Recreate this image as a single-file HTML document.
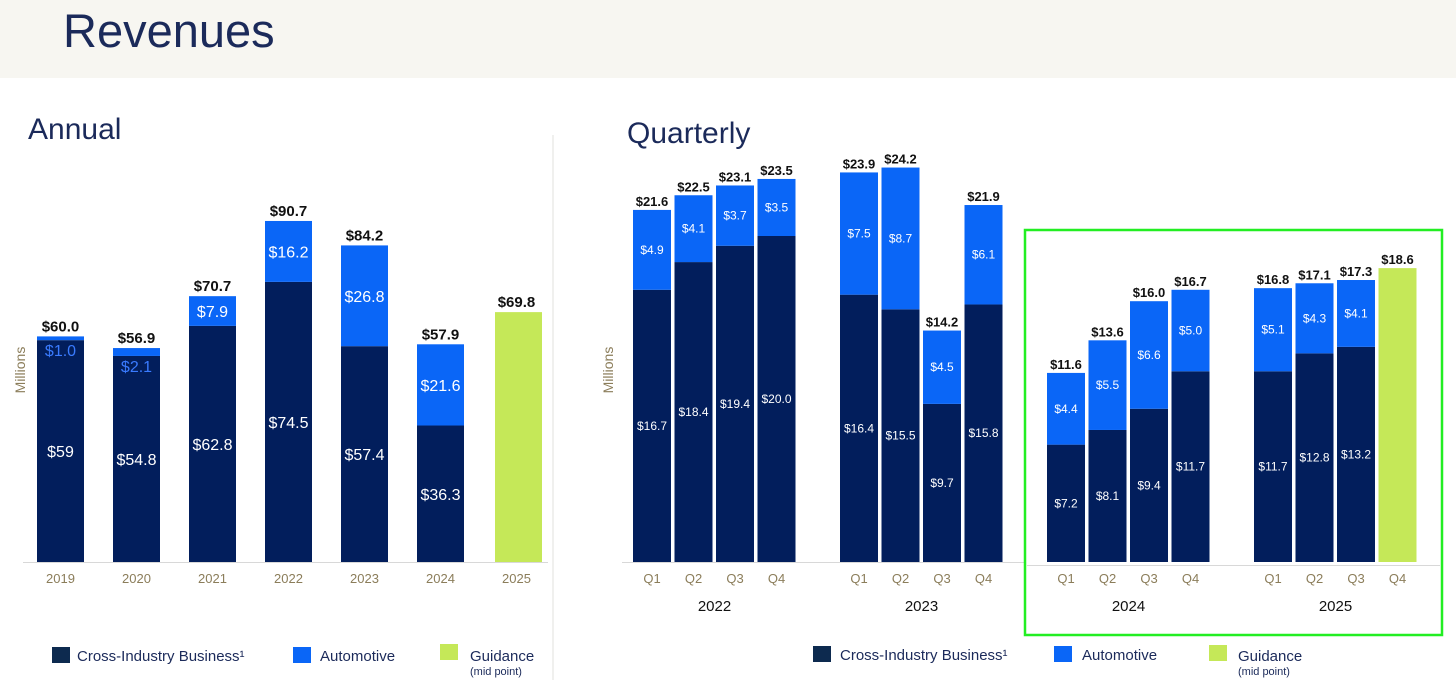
<!DOCTYPE html>
<html><head><meta charset="utf-8"><style>
html,body{margin:0;padding:0;background:#fff;width:1456px;height:696px;overflow:hidden;font-family:"Liberation Sans",sans-serif}
</style></head><body>
<svg id="c" width="1456" height="696" xmlns="http://www.w3.org/2000/svg" font-family="Liberation Sans, sans-serif">
<rect x="0" y="0" width="1456" height="78" fill="#f7f6f1"/>
<text x="63" y="47" font-size="47" fill="#1b2a5a">Revenues</text>
<text x="28" y="139" font-size="30" fill="#1b2a5a">Annual</text>
<text x="627" y="143" font-size="30" fill="#1b2a5a">Quarterly</text>
<line x1="553" y1="135" x2="553" y2="680" stroke="#e2e0dc" stroke-width="1"/>
<text transform="translate(25,370) rotate(-90)" text-anchor="middle" font-size="14" fill="#8b7d5a">Millions</text>
<text transform="translate(613,370) rotate(-90)" text-anchor="middle" font-size="14" fill="#8b7d5a">Millions</text>
<line x1="23" y1="562.5" x2="548" y2="562.5" stroke="#d8d8d8"/>
<line x1="622" y1="562.5" x2="1025" y2="562.5" stroke="#d8d8d8"/>
<line x1="1027" y1="565.5" x2="1440" y2="565.5" stroke="#d8d8d8"/>
<rect x="1025" y="230" width="417" height="405" fill="none" stroke="#22ee22" stroke-width="2.5"/>
<g id="ann"></g><g id="qtr"></g>
<g>
<rect x="52" y="647" width="18" height="16" fill="#0d2a4f"/>
<text x="77" y="661" font-size="15" fill="#1b2a5a">Cross-Industry Business¹</text>
<rect x="293" y="647" width="18" height="16" fill="#0a66f7"/>
<text x="320" y="661" font-size="15" fill="#1b2a5a">Automotive</text>
<rect x="440" y="644" width="18" height="16" fill="#c5e858"/>
<text x="470" y="661" font-size="15" fill="#1b2a5a">Guidance</text>
<text x="470" y="675" font-size="11" fill="#1b2a5a">(mid point)</text>
</g>
<g>
<rect x="813" y="646" width="18" height="16" fill="#0d2a4f"/>
<text x="840" y="660" font-size="15" fill="#1b2a5a">Cross-Industry Business¹</text>
<rect x="1054" y="646" width="18" height="16" fill="#0a66f7"/>
<text x="1082" y="660" font-size="15" fill="#1b2a5a">Automotive</text>
<rect x="1209" y="645" width="18" height="16" fill="#c5e858"/>
<text x="1238" y="661" font-size="15" fill="#1b2a5a">Guidance</text>
<text x="1238" y="675" font-size="11" fill="#1b2a5a">(mid point)</text>
</g>
</svg>
<script>
const annYears = ["2019","2020","2021","2022","2023","2024","2025"];
const annCross = [59, 54.8, 62.8, 74.5, 57.4, 36.3, 0];
const annCrossLabels = ["$59","$54.8","$62.8","$74.5","$57.4","$36.3",""];
const annAuto = [1.0, 2.1, 7.9, 16.2, 26.8, 21.6, 0];
const annGuidance = [0, 0, 0, 0, 0, 0, 69.8];
const annTotals = ["$60.0","$56.9","$70.7","$90.7","$84.2","$57.9","$69.8"];

const qYears = ["2022","2023","2024","2025"];
const qQuarters = ["Q1","Q2","Q3","Q4"];
const qCross = [16.7,18.4,19.4,20.0, 16.4,15.5,9.7,15.8, 7.2,8.1,9.4,11.7, 11.7,12.8,13.2,0];
const qAuto = [4.9,4.1,3.7,3.5, 7.5,8.7,4.5,6.1, 4.4,5.5,6.6,5.0, 5.1,4.3,4.1,0];
const qGuidance = [0,0,0,0, 0,0,0,0, 0,0,0,0, 0,0,0,18.6];
const qTotals = ["$21.6","$22.5","$23.1","$23.5","$23.9","$24.2","$14.2","$21.9","$11.6","$13.6","$16.0","$16.7","$16.8","$17.1","$17.3","$18.6"];

const NS="http://www.w3.org/2000/svg";
function mk(tag, parent, attrs){const e=document.createElementNS(NS,tag);for(const k in attrs)e.setAttribute(k,attrs[k]);parent.appendChild(e);return e;}
function fmt(v){return "$"+v.toFixed(1);}

const ann=document.getElementById('ann');
const aBase=562, aScale=3.76, aGScale=3.58, aW=47;
const ax=i=>37+76*i;
const ay=v=>v*aScale;
const ayg=v=>v*aGScale;
annYears.forEach((yr,i)=>{
  const x=ax(i);
  let top=aBase;
  if(annCross[i]>0){
    const h=ay(annCross[i]);
    const r=mk('rect',ann,{x:x,y:top-h,width:aW,height:h,fill:'#021e5c'});
    
    
    const t=mk('text',ann,{x:x+aW/2,y:top-h/2+6,'text-anchor':'middle','font-size':16,fill:'#fff'});
    t.textContent=annCrossLabels[i];
    
    
    top-=h;
  }
  if(annAuto[i]>0){
    const h=ay(annAuto[i]);
    const r=mk('rect',ann,{x:x,y:top-h,width:aW,height:h,fill:'#0a66f7'});
    
    
    const small=h<20;
    const t=mk('text',ann,{x:x+aW/2,y:small?top+16:top-h/2+6,'text-anchor':'middle','font-size':16,fill:small?'#3a7bff':'#fff'});
    t.textContent=fmt(annAuto[i]);
    
    
    top-=h;
  }
  if(annGuidance[i]>0){
    const h=ayg(annGuidance[i]);
    const r=mk('rect',ann,{x:x+2,y:top-h,width:aW,height:h,fill:'#c5e858'});
    
    
    top-=h;
  }
  const tt=mk('text',ann,{x:x+aW/2,y:top-5,'text-anchor':'middle','font-size':15,'font-weight':'bold',fill:'#111'});
  tt.textContent=annTotals[i];
  
  
  const xl=mk('text',ann,{x:x+aW/2,y:583,'text-anchor':'middle','font-size':13,fill:'#8b7d5a'});
  xl.textContent=yr;
  
  
});

const qtr=document.getElementById('qtr');
const qBase=562, qScale=16.3, qGScale=15.8, qW=38;
const qx=(g,q)=>633+207*g+41.5*q;
const qy=v=>v*qScale;
const qyg=v=>v*qGScale;
qYears.forEach((yr,g)=>{
  const yl=mk('text',qtr,{x:qx(g,1)+qW+2,y:611,'text-anchor':'middle','font-size':15,fill:'#111'});
  yl.textContent=yr;
  
  
  qQuarters.forEach((qq,q)=>{
    const i=g*4+q, x=qx(g,q), id=yr+'-'+qq.toLowerCase();
    let top=qBase;
    if(qCross[i]>0){
      const h=qy(qCross[i]);
      const r=mk('rect',qtr,{x:x,y:top-h,width:qW,height:h,fill:'#021e5c'});
      
      
      const t=mk('text',qtr,{x:x+qW/2,y:top-h/2+4,'text-anchor':'middle','font-size':12,fill:'#fff'});
      t.textContent=fmt(qCross[i]);
      
      
      top-=h;
    }
    if(qAuto[i]>0){
      const h=qy(qAuto[i]);
      const r=mk('rect',qtr,{x:x,y:top-h,width:qW,height:h,fill:'#0a66f7'});
      
      
      const t=mk('text',qtr,{x:x+qW/2,y:top-h/2+4,'text-anchor':'middle','font-size':12,fill:'#fff'});
      t.textContent=fmt(qAuto[i]);
      
      
      top-=h;
    }
    if(qGuidance[i]>0){
      const h=qyg(qGuidance[i]);
      const r=mk('rect',qtr,{x:x,y:top-h,width:qW,height:h,fill:'#c5e858'});
      
      
      top-=h;
    }
    const tt=mk('text',qtr,{x:x+qW/2,y:top-4,'text-anchor':'middle','font-size':13,'font-weight':'bold',fill:'#111'});
    tt.textContent=qTotals[i];
    
    
    const xl=mk('text',qtr,{x:x+qW/2,y:583,'text-anchor':'middle','font-size':13,fill:'#8b7d5a'});
    xl.textContent=qq;
    
    
  });
});
</script>
</body></html>
